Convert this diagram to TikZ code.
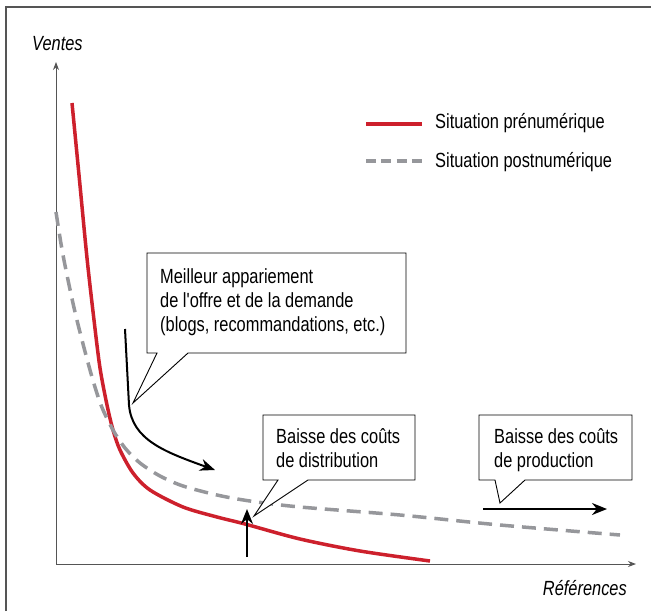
\documentclass[tikz,border=0pt]{standalone}
\usepackage{fontspec}
\setmainfont{Liberation Sans}[FakeStretch=0.8,Ligatures=TeXOff]
\usetikzlibrary{arrows.meta}
\definecolor{cred}{RGB}{205,32,44}
\definecolor{cgray}{RGB}{150,151,155}
\definecolor{caxis}{RGB}{85,85,85}
\begin{document}
\begin{tikzpicture}[x=1pt,y=-1pt,
  lbl/.style={font=\fontsize{20.5}{24}\selectfont, inner sep=0pt},
  ilbl/.style={font=\fontsize{20.5}{24}\selectfont\itshape, inner sep=0pt},
  callout/.style={draw=black, line width=0.9pt, fill=white, line join=miter},
  bigarrow/.style={line width=2pt, -{Stealth[length=15pt,width=12pt]}},
  axisline/.style={draw=caxis, line width=1pt, -{Stealth[length=8pt,width=6pt]}},
  redc/.style={cred, line width=3.5pt},
  grayc/.style={cgray, line width=3.5pt, dash pattern=on 14pt off 8pt}]
\useasboundingbox (0,0) rectangle (651,611);
% frame
\draw[caxis, line width=1.5pt] (6,611) -- (6,7) -- (651,7);
% axes
\coordinate (O) at (56,564);
\coordinate (Ytip) at (56,62);
\coordinate (Xtip) at (636,564);
\draw[axisline] (O) -- (Ytip);
\draw[axisline] (O) -- (Xtip);
\node[ilbl, anchor=base west] (ventes) at (32,50) {Ventes};
\node[ilbl, anchor=base east] (refs) at (627,595) {Références};
% curves
\draw[redc] plot[smooth] coordinates {(72,103) (79,175) (87,258) (94,320) (100,368) (107,405) (113,430) (120,450) (133,473) (150,490) (183,507) (217,517) (245,524) (300,539) (360,551) (430,561)};
\draw[grayc] plot[smooth] coordinates {(56,212) (63,255) (75,312) (90,370) (101,405) (113,430) (125,448) (140,463) (160,476) (183,486) (217,495) (250,501) (300,507) (400,515) (500,525) (620,535)};
% legend
\coordinate (l1a) at (366,124); \coordinate (l1b) at (422,124);
\coordinate (l2a) at (366,161); \coordinate (l2b) at (422,161);
\draw[redc] (l1a) -- (l1b);
\draw[cgray, line width=3.5pt, dash pattern=on 10pt off 5.3pt] (l2a) -- (l2b);
\node[lbl, anchor=base west] (leg1) at (435,128) {Situation prénumérique};
\node[lbl, anchor=base west] (leg2) at (435,167) {Situation postnumérique};
% callouts
\draw[callout] (147,253) -- (406,253) -- (406,353) -- (188,353) -- (133,403) -- (157,353) -- (147,353) -- cycle;
\draw[callout] (263,415) -- (415,415) -- (415,480) -- (308,480) -- (254,516) -- (278,480) -- (263,480) -- cycle;
\draw[callout] (479,415) -- (632,415) -- (632,480) -- (525,480) -- (500,503) -- (495,480) -- (479,480) -- cycle;
\node[lbl, anchor=north west, align=left] (t1) at (160,268) {Meilleur appariement\\de l'offre et de la demande\\(blogs, recommandations, etc.)};
\node[lbl, anchor=north west, align=left] (t2) at (276,428) {Baisse des coûts\\de distribution};
\node[lbl, anchor=north west, align=left] (t3) at (494,428) {Baisse des coûts\\de production};
% arrows
\coordinate (a1s) at (125,329); \coordinate (a1m) at (129,405); \coordinate (a1e) at (215,470);
\draw[bigarrow] (a1s) -- (a1m) .. controls (132,440) and (165,452) .. (a1e);
\coordinate (a2s) at (247,557); \coordinate (a2e) at (247,509);
\draw[bigarrow] (a2s) -- (a2e);
\coordinate (a3s) at (483,509); \coordinate (a3e) at (607,509);
\draw[bigarrow] (a3s) -- (a3e);
\end{tikzpicture}
\end{document}
